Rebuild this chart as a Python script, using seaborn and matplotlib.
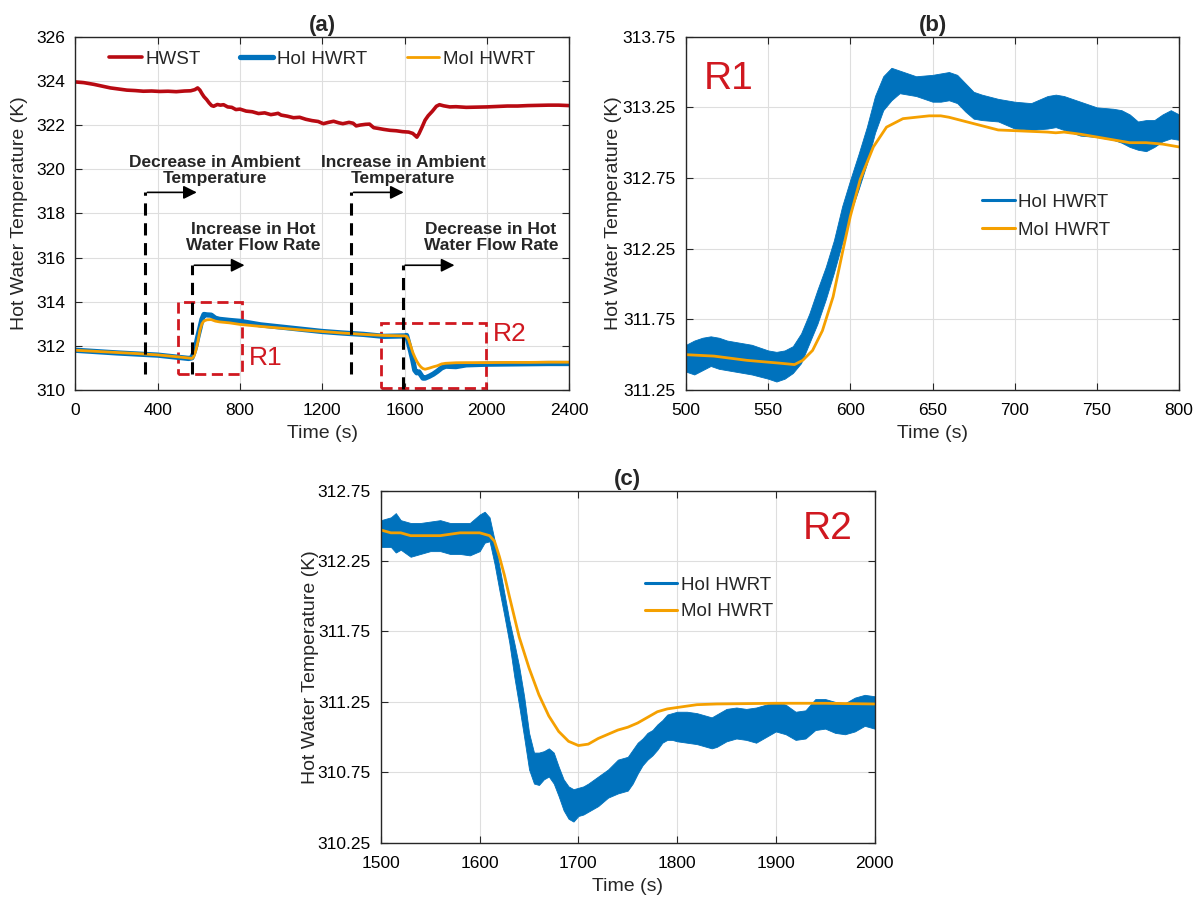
import numpy as np
import pandas as pd
import seaborn as sns
import matplotlib.pyplot as plt
from matplotlib.lines import Line2D
from matplotlib.patches import Rectangle

# ---------------- data ----------------
# Panel (a): hot water supply temperature
t_hwst = [0, 40, 90, 130, 170, 210, 250, 290, 330, 370, 410, 450, 490, 530, 560, 580, 594, 605,
          615, 625, 638, 650, 662, 672, 690, 705, 720, 740, 760, 780, 800, 830, 860, 890, 920,
          950, 970, 985, 1000, 1030, 1060, 1090, 1120, 1150, 1180, 1205, 1230, 1255, 1280, 1300,
          1330, 1350, 1365, 1385, 1410, 1430, 1450, 1470, 1500, 1530, 1560, 1590, 1620, 1640,
          1652, 1660, 1670, 1685, 1700, 1715, 1735, 1755, 1770, 1790, 1820, 1850, 1900, 1950,
          2000, 2050, 2100, 2150, 2200, 2250, 2300, 2350, 2400]
hwst = [323.95, 323.92, 323.84, 323.76, 323.68, 323.63, 323.58, 323.56, 323.53, 323.54, 323.52,
        323.53, 323.51, 323.54, 323.55, 323.60, 323.68, 323.58, 323.42, 323.28, 323.15, 323.00,
        322.88, 322.85, 322.93, 322.90, 322.92, 322.82, 322.80, 322.70, 322.72, 322.63, 322.60,
        322.52, 322.55, 322.47, 322.50, 322.53, 322.45, 322.40, 322.33, 322.35, 322.26, 322.20,
        322.16, 322.06, 322.12, 322.17, 322.10, 322.06, 322.12, 322.08, 321.96, 322.00, 322.03,
        322.04, 321.88, 321.85, 321.80, 321.76, 321.74, 321.70, 321.68, 321.62, 321.52, 321.45,
        321.60, 321.90, 322.22, 322.42, 322.62, 322.85, 322.92, 322.87, 322.82, 322.83, 322.80,
        322.81, 322.82, 322.84, 322.86, 322.86, 322.88, 322.89, 322.90, 322.90, 322.88]

# Panel (a): return temperatures (full run)
t_a = [0, 100, 200, 300, 400, 500, 550, 566, 575, 585, 595, 605, 615, 625, 640, 660, 680, 700,
       750, 800, 900, 1000, 1100, 1200, 1300, 1400, 1500, 1600, 1610, 1620, 1630, 1640, 1650,
       1660, 1670, 1680, 1690, 1700, 1720, 1740, 1760, 1780, 1800, 1850, 1900, 2000, 2100, 2200,
       2300, 2400]
hoi_a = [311.80, 311.74, 311.68, 311.63, 311.58, 311.48, 311.43, 311.46, 311.68, 312.00, 312.42,
         312.80, 313.20, 313.42, 313.40, 313.39, 313.25, 313.20, 313.15, 313.11, 312.95, 312.85,
         312.75, 312.65, 312.58, 312.52, 312.43, 312.45, 312.47, 312.12, 311.75, 311.36, 310.90,
         310.78, 310.82, 310.68, 310.54, 310.54, 310.62, 310.72, 310.85, 311.00, 311.08, 311.06,
         311.14, 311.17, 311.18, 311.19, 311.20, 311.20]
moi_a = [311.80, 311.75, 311.70, 311.65, 311.59, 311.50, 311.45, 311.43, 311.51, 311.78, 312.18,
         312.70, 313.00, 313.13, 313.18, 313.19, 313.12, 313.085, 313.04, 312.97, 312.88, 312.80,
         312.72, 312.65, 312.58, 312.52, 312.47, 312.45, 312.43, 312.28, 312.00, 311.71, 311.49,
         311.30, 311.15, 311.04, 310.97, 310.94, 310.99, 311.05, 311.10, 311.18, 311.21, 311.235,
         311.24, 311.24, 311.25, 311.25, 311.26, 311.26]

# Panel (b): region R1
t_b_moi = [500, 517, 537, 557, 566, 571, 577, 583, 589.5, 595.5, 600, 606, 614, 622, 632, 648,
           655, 660, 670, 680, 690, 700, 710, 720, 725, 730, 740, 750, 760, 770, 780, 790, 800]
moi_b = [311.50, 311.49, 311.46, 311.44, 311.43, 311.46, 311.53, 311.67, 311.91, 312.24, 312.48,
         312.74, 312.97, 313.11, 313.17, 313.19, 313.19, 313.18, 313.15, 313.12, 313.09, 313.085,
         313.08, 313.075, 313.07, 313.075, 313.06, 313.04, 313.02, 313.00, 313.00, 312.99, 312.97]
t_b = [500, 505, 510, 515, 520, 525, 530, 540, 550, 555, 560, 565, 570, 575, 580, 585, 590, 595,
       600, 605, 610, 615, 620, 625, 630, 640, 650, 655, 660, 665, 670, 675, 680, 690, 700, 710,
       720, 725, 730, 740, 750, 760, 765, 770, 775, 780, 785, 790, 795, 800]
hoi_b_upper = [311.57, 311.60, 311.62, 311.63, 311.62, 311.60, 311.59, 311.57, 311.53, 311.52,
               311.53, 311.56, 311.65, 311.79, 311.96, 312.12, 312.31, 312.55, 312.74, 312.92,
               313.11, 313.33, 313.47, 313.53, 313.51, 313.47, 313.48, 313.49, 313.50, 313.48,
               313.42, 313.36, 313.34, 313.31, 313.29, 313.28, 313.33, 313.34, 313.33, 313.29,
               313.25, 313.24, 313.23, 313.20, 313.15, 313.16, 313.16, 313.20, 313.23, 313.20]
hoi_b_lower = [311.38, 311.36, 311.39, 311.42, 311.40, 311.39, 311.38, 311.36, 311.33, 311.31,
               311.33, 311.37, 311.44, 311.58, 311.72, 311.89, 312.08, 312.29, 312.50, 312.67,
               312.85, 313.07, 313.23, 313.30, 313.35, 313.33, 313.29, 313.29, 313.30, 313.28,
               313.22, 313.17, 313.16, 313.15, 313.10, 313.09, 313.10, 313.11, 313.09, 313.05,
               313.04, 313.02, 313.00, 312.97, 312.95, 312.94, 312.97, 313.01, 313.03, 313.02]

# Panel (c): region R2
t_c_moi = [1500, 1510, 1520, 1530, 1540, 1560, 1580, 1600, 1610, 1615, 1620, 1625, 1630, 1640,
           1650, 1660, 1670, 1680, 1690, 1700, 1710, 1720, 1730, 1740, 1750, 1760, 1770, 1780,
           1790, 1800, 1820, 1840, 1900, 1950, 2000]
moi_c = [312.47, 312.45, 312.45, 312.43, 312.43, 312.43, 312.45, 312.45, 312.43, 312.39, 312.28,
         312.15, 312.00, 311.71, 311.49, 311.30, 311.15, 311.04, 310.97, 310.94, 310.95, 310.99,
         311.02, 311.05, 311.07, 311.10, 311.14, 311.18, 311.20, 311.21, 311.23, 311.235, 311.24,
         311.24, 311.235]
t_c = [1500, 1510, 1515, 1520, 1530, 1540, 1550, 1560, 1570, 1580, 1590, 1600, 1605, 1610, 1615,
       1620, 1625, 1630, 1635, 1640, 1645, 1650, 1655, 1660, 1665, 1670, 1675, 1680, 1685, 1690,
       1695, 1700, 1705, 1710, 1720, 1730, 1740, 1750, 1755, 1760, 1765, 1770, 1775, 1780, 1785,
       1790, 1795, 1800, 1810, 1820, 1830, 1835, 1840, 1850, 1860, 1870, 1880, 1890, 1900, 1910,
       1920, 1930, 1940, 1950, 1960, 1970, 1980, 1990, 2000]
hoi_c_upper = [312.54, 312.56, 312.59, 312.54, 312.52, 312.52, 312.53, 312.54, 312.52, 312.52,
               312.52, 312.58, 312.60, 312.56, 312.40, 312.21, 312.02, 311.83, 311.67, 311.50,
               311.29, 311.03, 310.89, 310.89, 310.90, 310.92, 310.89, 310.79, 310.70, 310.65,
               310.63, 310.64, 310.65, 310.67, 310.72, 310.77, 310.84, 310.86, 310.91, 310.96,
               310.99, 311.03, 311.05, 311.09, 311.12, 311.16, 311.17, 311.18, 311.18, 311.17,
               311.15, 311.14, 311.16, 311.20, 311.21, 311.20, 311.21, 311.23, 311.25, 311.23,
               311.18, 311.19, 311.27, 311.27, 311.25, 311.24, 311.28, 311.30, 311.29]
hoi_c_lower = [312.35, 312.35, 312.31, 312.33, 312.28, 312.30, 312.32, 312.32, 312.30, 312.30,
               312.29, 312.32, 312.38, 312.39, 312.23, 312.04, 311.86, 311.67, 311.43, 311.22,
               311.00, 310.77, 310.67, 310.66, 310.70, 310.72, 310.67, 310.58, 310.48, 310.42,
               310.40, 310.44, 310.45, 310.47, 310.51, 310.57, 310.60, 310.62, 310.67, 310.74,
               310.80, 310.84, 310.87, 310.91, 310.96, 310.98, 310.98, 310.97, 310.96, 310.95,
               310.93, 310.92, 310.93, 310.97, 310.99, 310.98, 310.96, 311.00, 311.04, 311.02,
               310.98, 310.99, 311.05, 311.06, 311.03, 311.02, 311.04, 311.08, 311.06]

# annotations of panel (a)
event_times = [340, 568, 1342, 1593]
event_tops = [318.95, 315.65, 318.95, 315.65]
event_bottoms = [310.72, 310.72, 310.72, 310.05]
arrow_ends = [590, 822, 1596, 1843]
event_texts = ["Decrease in Ambient\nTemperature", "Increase in Hot\nWater Flow Rate",
               "Increase in Ambient\nTemperature", "Decrease in Hot\nWater Flow Rate"]
event_text_x = [677, 865, 1593, 2020]
event_text_y = [319.95, 316.9, 319.95, 316.9]
regions = {"R1": (500, 810, 310.72, 314.0), "R2": (1485, 1998, 310.08, 313.05)}

# ---------------- style ----------------
sns.set_theme(style="ticks")
plt.rcParams["font.family"] = ["Liberation Sans", "DejaVu Sans"]

BLUE = "#0072BD"
ORANGE = "#F5A000"
DARKRED = "#B80A12"
RED = "#D01820"

fig = plt.figure(figsize=(12, 8.97), dpi=100)
axA = fig.add_axes([0.0629, 0.5652, 0.4113, 0.3939])
axB = fig.add_axes([0.5717, 0.5652, 0.4108, 0.3939])
axC = fig.add_axes([0.3175, 0.0605, 0.4113, 0.3926])


def style(ax, ylab_x):
    ax.grid(True, color="#DEDEDE", lw=0.8)
    ax.set_axisbelow(True)
    ax.tick_params(direction="in", top=True, right=True, length=5, width=0.8,
                   labelsize=12.5, color="#262626", labelcolor="black", pad=7.5)
    ax.tick_params(axis="x", pad=9.5)
    for s in ax.spines.values():
        s.set_color("#262626")
        s.set_linewidth(1.0)
    ax.set_xlabel("Time (s)", fontsize=14, labelpad=5)
    ax.set_ylabel("Hot Water Temperature (K)", fontsize=14)
    ax.yaxis.set_label_coords(ylab_x, 0.5)


LEG = dict(frameon=False, fontsize=13.5, handlelength=1.75, handletextpad=0.2,
           borderpad=0, borderaxespad=0)

# ---------------- panel (a) ----------------
sns.lineplot(x=t_hwst, y=hwst, ax=axA, color=DARKRED, lw=2.6, label="HWST")
sns.lineplot(x=t_a, y=hoi_a, ax=axA, color=BLUE, lw=3.8, label="HoI HWRT")
sns.lineplot(x=t_a, y=moi_a, ax=axA, color=ORANGE, lw=2.0, label="MoI HWRT")

for x, yt, yb, xe in zip(event_times, event_tops, event_bottoms, arrow_ends):
    axA.plot([x, x], [yb, yt], color="black", lw=2.2, ls=(0, (4, 2.5)))
    axA.annotate("", xy=(xe, yt), xytext=(x + 10, yt),
                 arrowprops=dict(arrowstyle="-|>", color="black", lw=1.2,
                                 mutation_scale=20, shrinkA=0, shrinkB=0))
for s, x, y in zip(event_texts, event_text_x, event_text_y):
    axA.text(x, y, s, ha="center", va="center", fontsize=12.5, fontweight="bold",
             linespacing=1.1)
for name, (x0, x1, y0, y1) in regions.items():
    axA.add_patch(Rectangle((x0, y0), x1 - x0, y1 - y0, fill=False, edgecolor=RED,
                            lw=2.0, ls=(0, (4, 2))))
axA.text(841, 311.45, "R1", color=RED, fontsize=19, va="center", ha="left")
axA.text(2029, 312.52, "R2", color=RED, fontsize=19, va="center", ha="left")

axA.set_xlim(0, 2400)
axA.set_ylim(310, 326)
axA.set_xticks(range(0, 2401, 400))
axA.set_yticks(range(310, 327, 2))
axA.set_title("(a)", fontsize=16, fontweight="bold", pad=4)
axA.legend(loc="center", bbox_to_anchor=(0.5, 0.936), ncol=3, columnspacing=2.1, **LEG)
style(axA, -0.096)

# ---------------- panel (b) ----------------
axB.fill_between(t_b, hoi_b_lower, hoi_b_upper, color=BLUE, lw=0.6, edgecolor=BLUE)
sns.lineplot(x=t_b_moi, y=moi_b, ax=axB, color=ORANGE, lw=2.0)
axB.text(511, 313.45, "R1", color=RED, fontsize=28, va="center", ha="left")
axB.set_xlim(500, 800)
axB.set_ylim(311.25, 313.75)
axB.set_xticks(range(500, 801, 50))
axB.set_yticks([311.25, 311.75, 312.25, 312.75, 313.25, 313.75])
axB.set_title("(b)", fontsize=16, fontweight="bold", pad=4)
handles = [Line2D([], [], color=BLUE, lw=2.2), Line2D([], [], color=ORANGE, lw=2.2)]
axB.legend(handles, ["HoI HWRT", "MoI HWRT"], loc="center left", bbox_to_anchor=(0.60, 0.492),
           labelspacing=0.6, **LEG)
style(axB, -0.130)

# ---------------- panel (c) ----------------
axC.fill_between(t_c, hoi_c_lower, hoi_c_upper, color=BLUE, lw=0.6, edgecolor=BLUE)
sns.lineplot(x=t_c_moi, y=moi_c, ax=axC, color=ORANGE, lw=2.0)
axC.text(1978, 312.48, "R2", color=RED, fontsize=28, va="center", ha="right")
axC.set_xlim(1500, 2000)
axC.set_ylim(310.25, 312.75)
axC.set_xticks(range(1500, 2001, 100))
axC.set_yticks([310.25, 310.75, 311.25, 311.75, 312.25, 312.75])
axC.set_title("(c)", fontsize=16, fontweight="bold", pad=4)
axC.legend(handles, ["HoI HWRT", "MoI HWRT"], loc="center left", bbox_to_anchor=(0.534, 0.694),
           labelspacing=0.5, **LEG)
style(axC, -0.126)

fig.savefig("out.png", dpi=100)
